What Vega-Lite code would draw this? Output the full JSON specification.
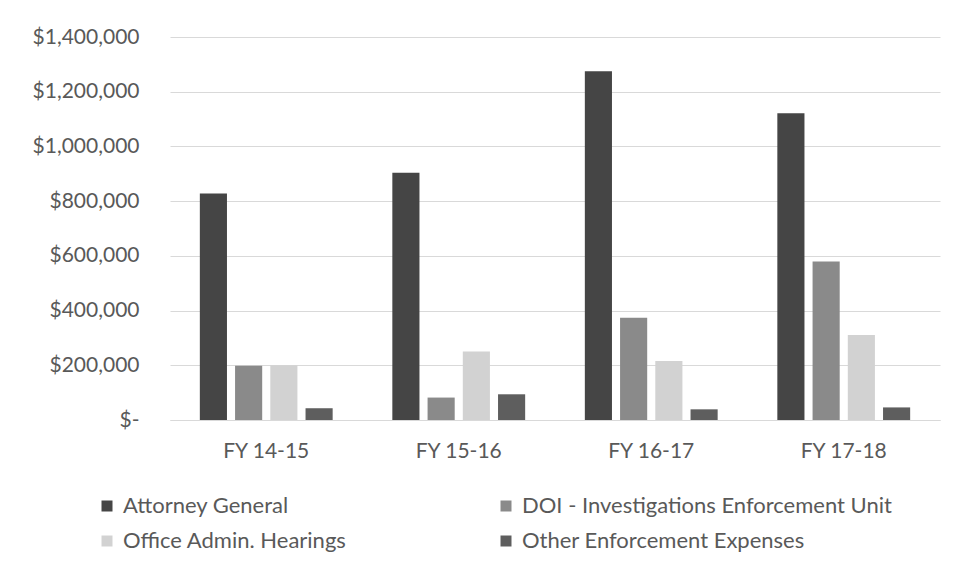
{
  "$schema": "https://vega.github.io/schema/vega-lite/v6.json",
  "width": 770,
  "height": 383,
  "autosize": "none",
  "padding": {"left": 170, "top": 37, "right": 18, "bottom": 162},
  "background": "white",
  "config": {"view": {"stroke": null}, "font": "Lato"},
  "data": {
    "values": [
      {"year": "FY 14-15", "series": "Attorney General", "value": 828000},
      {"year": "FY 14-15", "series": "DOI - Investigations Enforcement Unit", "value": 198000},
      {"year": "FY 14-15", "series": "Office Admin. Hearings", "value": 200000},
      {"year": "FY 14-15", "series": "Other Enforcement Expenses", "value": 43000},
      {"year": "FY 15-16", "series": "Attorney General", "value": 904000},
      {"year": "FY 15-16", "series": "DOI - Investigations Enforcement Unit", "value": 82000},
      {"year": "FY 15-16", "series": "Office Admin. Hearings", "value": 250000},
      {"year": "FY 15-16", "series": "Other Enforcement Expenses", "value": 94000},
      {"year": "FY 16-17", "series": "Attorney General", "value": 1275000},
      {"year": "FY 16-17", "series": "DOI - Investigations Enforcement Unit", "value": 374000},
      {"year": "FY 16-17", "series": "Office Admin. Hearings", "value": 216000},
      {"year": "FY 16-17", "series": "Other Enforcement Expenses", "value": 39000},
      {"year": "FY 17-18", "series": "Attorney General", "value": 1121000},
      {"year": "FY 17-18", "series": "DOI - Investigations Enforcement Unit", "value": 579000},
      {"year": "FY 17-18", "series": "Office Admin. Hearings", "value": 311000},
      {"year": "FY 17-18", "series": "Other Enforcement Expenses", "value": 46000}
    ]
  },
  "mark": {"type": "bar"},
  "encoding": {
    "x": {
      "field": "year",
      "type": "nominal",
      "sort": ["FY 14-15", "FY 15-16", "FY 16-17", "FY 17-18"],
      "scale": {"paddingInner": 0.31, "paddingOuter": 0.155},
      "axis": {
        "title": null,
        "labelAngle": 0,
        "labelFont": "Lato",
        "labelFontSize": 21,
        "labelColor": "#595959",
        "labelPadding": 20,
        "ticks": false,
        "tickSize": 0,
        "domainColor": "#d9d9d9",
        "domainWidth": 1
      }
    },
    "xOffset": {
      "field": "series",
      "type": "nominal",
      "sort": ["Attorney General", "DOI - Investigations Enforcement Unit", "Office Admin. Hearings", "Other Enforcement Expenses"],
      "scale": {"paddingInner": 0.23, "paddingOuter": 0}
    },
    "y": {
      "field": "value",
      "type": "quantitative",
      "scale": {"domain": [0, 1400000]},
      "axis": {
        "title": null,
        "values": [0, 200000, 400000, 600000, 800000, 1000000, 1200000, 1400000],
        "labelExpr": "datum.value == 0 ? '$-\u00a0\u00a0' : '$' + format(datum.value, ',')",
        "labelFont": "Lato",
        "labelFontSize": 21,
        "labelColor": "#595959",
        "labelPadding": 31,
        "grid": true,
        "gridColor": "#d9d9d9",
        "gridWidth": 1.2,
        "domain": false,
        "ticks": false,
        "tickSize": 0
      }
    },
    "color": {
      "field": "series",
      "type": "nominal",
      "scale": {
        "domain": ["Attorney General", "Office Admin. Hearings", "DOI - Investigations Enforcement Unit", "Other Enforcement Expenses"],
        "range": ["#454545", "#d2d2d2", "#8a8a8a", "#5e5e5e"]
      },
      "legend": {
        "title": null,
        "orient": "none",
        "legendX": -74,
        "legendY": 458,
        "columns": 2,
        "columnPadding": 148,
        "rowPadding": 13,
        "padding": 0,
        "symbolType": "square",
        "symbolSize": 121,
        "symbolStrokeWidth": 0,
        "labelFont": "Lato",
        "labelFontSize": 22,
        "labelColor": "#595959",
        "labelOffset": 5,
        "labelLimit": 0
      }
    }
  }
}
